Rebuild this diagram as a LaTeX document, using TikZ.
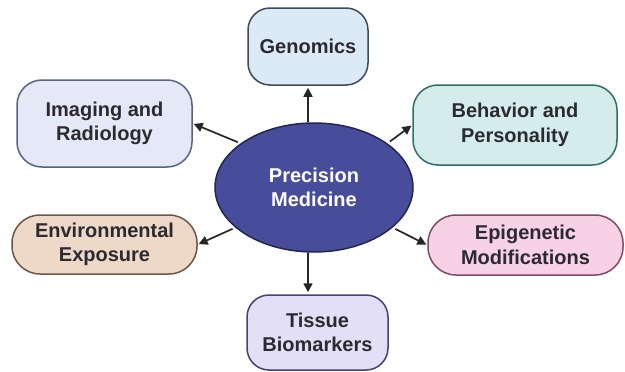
\documentclass[tikz,border=0pt]{standalone}
\usepackage{fontspec}
\setmainfont{Liberation Sans}
\usetikzlibrary{arrows.meta,shapes.geometric}

\definecolor{txt}{HTML}{2A2A30}
\definecolor{genfill}{HTML}{DCEAF8}\definecolor{genline}{HTML}{3E4A5A}
\definecolor{imgfill}{HTML}{E5E9F7}\definecolor{imgline}{HTML}{56647E}
\definecolor{behfill}{HTML}{D4EDEB}\definecolor{behline}{HTML}{2F6E68}
\definecolor{envfill}{HTML}{EED8C8}\definecolor{envline}{HTML}{6E5646}
\definecolor{epifill}{HTML}{F7D2E6}\definecolor{epiline}{HTML}{7E4A66}
\definecolor{tisfill}{HTML}{E3DFF6}\definecolor{tisline}{HTML}{45426C}
\definecolor{pmfill}{HTML}{474C9B}\definecolor{pmline}{HTML}{23264F}
\definecolor{arrcol}{HTML}{262626}

\tikzset{
  topic/.style={draw, line width=1.5pt, align=center, inner sep=0pt,
    text=txt, font=\bfseries\fontsize{20}{24.5}\selectfont},
  hub/.style={ellipse, draw=pmline, fill=pmfill, line width=1.5pt,
    inner sep=0pt, align=center, text=white,
    font=\bfseries\fontsize{20}{24.5}\selectfont},
  link/.style={draw=arrcol, line width=1.7pt,
    -{Triangle[length=9pt,width=9pt]}}
}

\begin{document}
\begin{tikzpicture}[x=1pt,y=-1pt]
\useasboundingbox (0,0) rectangle (625,372);

% central hub
\node[hub, minimum width=198pt, minimum height=129pt] (pm) at (314,187.5)
  {Precision\\Medicine};

% surrounding topics
\node[topic, fill=genfill, draw=genline, minimum width=120pt, minimum height=77pt,
  rounded corners=22pt] (gen) at (308,46.5) {Genomics};
\node[topic, fill=imgfill, draw=imgline, minimum width=175pt, minimum height=87pt,
  rounded corners=25pt] (img) at (104.5,123.5) {Imaging and\\Radiology};
\node[topic, fill=behfill, draw=behline, minimum width=204pt, minimum height=80pt,
  rounded corners=25pt] (beh) at (515,125) {Behavior and\\Personality};
\node[topic, fill=envfill, draw=envline, minimum width=185pt, minimum height=59pt,
  rounded corners=28pt] (env) at (104.5,244.5) {Environmental\\Exposure};
\node[topic, fill=epifill, draw=epiline, minimum width=195pt, minimum height=60pt,
  rounded corners=28pt] (epi) at (525.5,245) {Epigenetic\\Modifications};
\node[topic, fill=tisfill, draw=tisline, minimum width=141pt, minimum height=75pt,
  rounded corners=22pt] (tis) at (317.5,332.5) {Tissue\\Biomarkers};

% vertical axis shared by the top and bottom links
\coordinate (axtop) at (gen.south |- pm.north);
\coordinate (axbot) at (gen.south |- pm.south);

% connectors
\draw[link, shorten >=2pt] (axtop) -- (gen.south);
\draw[link, shorten >=2pt] (axbot) -- (gen.south |- tis.north);
\draw[link, shorten <=3pt, shorten >=1pt] (pm.149) -- (img.east);
\draw[link, shorten <=3pt, shorten >=1pt] (pm.31) -- (beh.west);
\draw[link, shorten <=3pt, shorten >=1pt] (pm.207) -- (env.east);
\draw[link, shorten <=3pt, shorten >=1pt] (pm.333) -- (epi.west);
\end{tikzpicture}
\end{document}
